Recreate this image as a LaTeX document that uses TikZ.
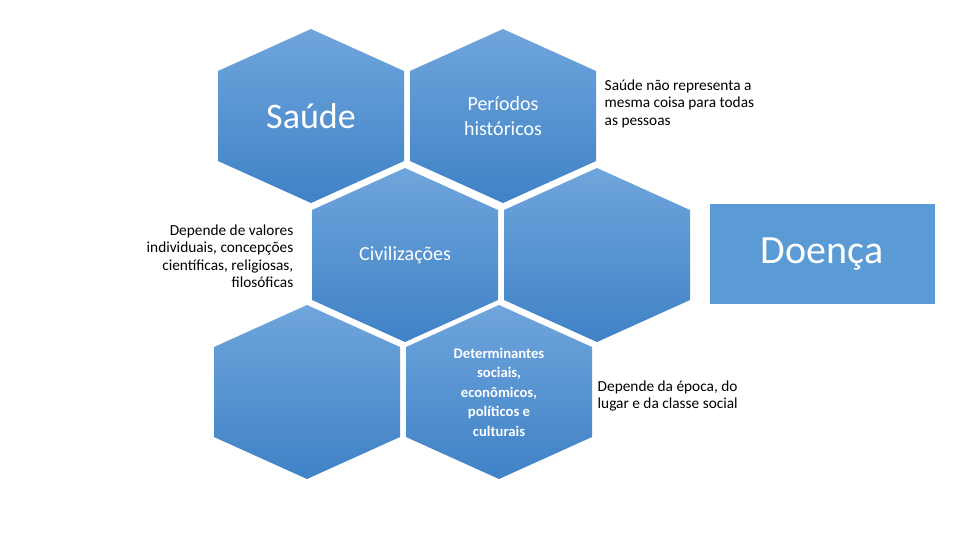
\documentclass[tikz,border=0pt]{standalone}
\usepackage{fontspec}
\setmainfont{Carlito}
\begin{document}
\begin{tikzpicture}[x=0.75pt,y=-0.75pt,
 hex/.style={top color=hexTop,bottom color=hexBot,draw=none},
 wt/.style={text=white,align=center,font=#1},
 bt/.style={text=black,font=\fontsize{11.5}{13}\selectfont}]
\definecolor{hexTop}{HTML}{6FA5DC}
\definecolor{hexBot}{HTML}{3F82C6}
\definecolor{box}{HTML}{5B9BD5}
\useasboundingbox (0,0) rectangle (960,540);
\newcommand{\hexat}[3]{%
 \path[hex] (#1,#2-87) -- (#1+93,#2-45) -- (#1+93,#2+45) -- (#1,#2+87) -- (#1-93,#2+45) -- (#1-93,#2-45) -- cycle;
 \coordinate (#3) at (#1,#2);}
\hexat{311}{116}{h1}
\hexat{503}{116}{h2}
\hexat{405}{255}{h3}
\hexat{597}{255}{h4}
\hexat{307}{392}{h5}
\hexat{499}{392}{h6}
\node[wt=\fontsize{27}{30}\selectfont] (t1) at (311,116) {Saúde};
\node[wt=\fontsize{15}{19}\selectfont] (t2) at (503,116) {Períodos\\históricos};
\node[wt=\fontsize{15}{19}\selectfont] (t3) at (405,255) {Civilizações};
\node[wt=\bfseries\fontsize{11}{14.6}\selectfont] (t6) at (499,392) {Determinantes\\sociais,\\econômicos,\\políticos e\\culturais};
\fill[box] (710,204) rectangle (935,304);
\node[text=white,font=\fontsize{30}{34}\selectfont] (d) at (822,254) {Doença};
\node[bt,align=left,anchor=north west] (s1) at (600,75) {Saúde não representa a\\mesma coisa para todas\\as pessoas};
\node[bt,align=right,anchor=north east] (s2) at (298,220) {Depende de valores\\individuais, concepções\\científicas, religiosas,\\filosóficas};
\node[bt,align=left,anchor=north west] (s3) at (593,376) {Depende da época, do\\lugar e da classe social};
\end{tikzpicture}
\end{document}
